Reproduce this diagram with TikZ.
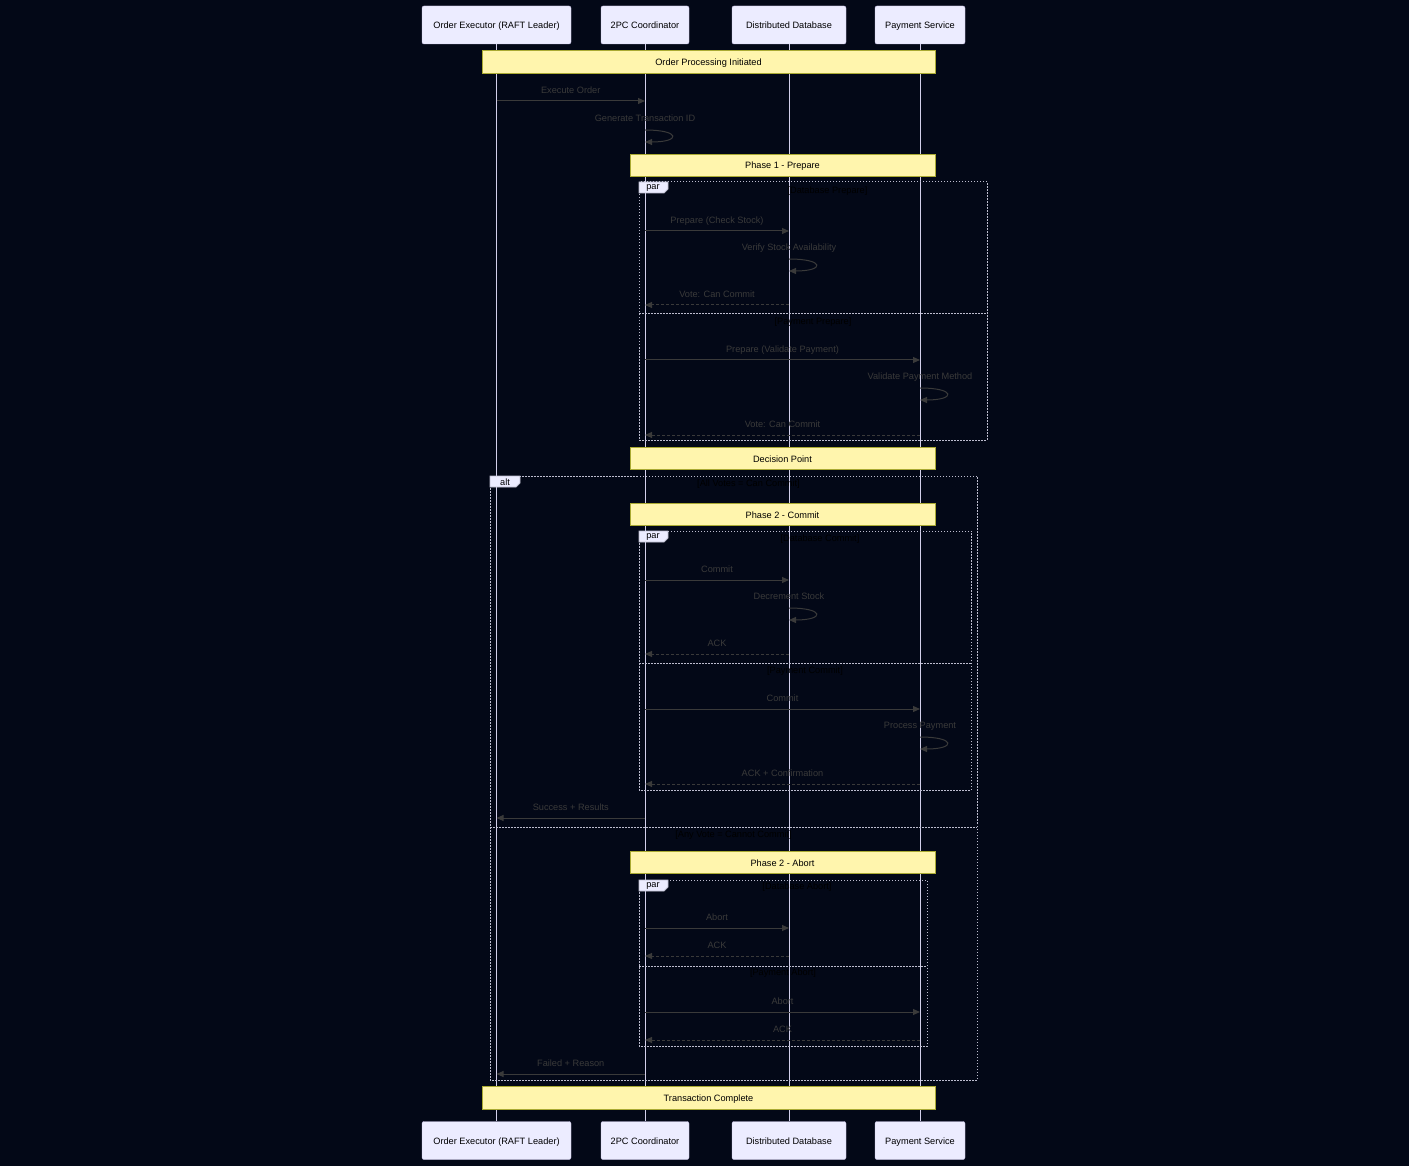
\documentclass[tikz,border=0pt]{standalone}
\usepackage{fontspec}
\setmainfont{Liberation Sans}
\usetikzlibrary{arrows.meta}
\definecolor{bgdark}{HTML}{030817}
\definecolor{actorfill}{HTML}{ECECFF}
\definecolor{actorline}{HTML}{C9C3E6}
\definecolor{lifeline}{HTML}{D2CFEA}
\definecolor{notefill}{HTML}{FFF5AD}
\definecolor{noteline}{HTML}{AAAA33}
\definecolor{msgline}{HTML}{3A3A3A}
\definecolor{msgtext}{HTML}{3A3A3A}
\definecolor{frameline}{HTML}{BDBDCF}

\begin{document}
\begin{tikzpicture}[
	x=1pt, y=-1pt,
	every node/.style={font=\fontsize{9.2}{11}\selectfont},
	actor/.style={draw=actorline, fill=actorfill, rounded corners=2pt, minimum height=38pt, inner sep=0pt, text height=8pt, text depth=0pt},
	note/.style={draw=noteline, fill=notefill, line width=0.8pt, minimum height=22pt, inner sep=0pt, text height=8pt, text depth=0pt},
	life/.style={draw=lifeline, line width=0.8pt},
	msg/.style={draw=msgline, line width=1pt, -{Triangle[length=7pt,width=6pt]}},
	reply/.style={msg, dash pattern=on 3pt off 2pt},
	lbl/.style={text=msgtext, anchor=base, inner sep=0pt},
	frame/.style={draw=frameline, line width=1pt, dash pattern=on 1.5pt off 1.5pt},
	tab/.style={draw=frameline, fill=actorfill, line width=0.8pt},
	cond/.style={text=black, inner sep=0pt},
	self/.style={msg, to path={.. controls +(36,0) and +(36,0) .. (\tikztotarget)}}
]
\fill[bgdark] (0,0) rectangle (1409,1166);
\useasboundingbox (0,0) rectangle (1409,1166);

\node[actor, minimum width=149pt] (exec) at (496.5,25) {Order Executor (RAFT Leader)};
\node[actor, minimum width=88pt] (coord) at (645,25) {2PC Coordinator};
\node[actor, minimum width=114pt] (db) at (789,25) {Distributed Database};
\node[actor, minimum width=90pt] (pay) at (920,25) {Payment Service};
\node[actor, minimum width=149pt] (execB) at (496.5,1140.5) {Order Executor (RAFT Leader)};
\node[actor, minimum width=88pt] (coordB) at (645,1140.5) {2PC Coordinator};
\node[actor, minimum width=114pt] (dbB) at (789,1140.5) {Distributed Database};
\node[actor, minimum width=90pt] (payB) at (920,1140.5) {Payment Service};
\foreach \a in {exec,coord,db,pay}
	\draw[life] (\a.south) -- (\a B.north);

\draw[frame] (639,182) rectangle (987,440) (639,314) -- (987,314);
\draw[tab] (639,182) -- ++(29,0) -- ++(0,7) -- ++(-4,4) -- ++(-25,0) -- cycle;
\node[cond] (par1) at (653,188) {par};
\node[cond] (c1) at (827.5,191) {[Database Prepare]};
\node[cond] (c2) at (813,322) {[Payment Prepare]};

\draw[frame] (490,476) rectangle (977,1080) (490,827) -- (977,827);
\draw[tab] (490,476) -- ++(30,0) -- ++(0,7) -- ++(-4,4) -- ++(-26,0) -- cycle;
\node[cond] (alt1) at (505,482) {alt};
\node[cond] (c3) at (748.5,484) {[All Votes = Can Commit]};
\node[cond] (c4) at (733.5,835) {[Any Vote = Cannot Commit]};

\draw[frame] (639,531) rectangle (971,790) (639,663) -- (971,663);
\draw[tab] (639,531) -- ++(29,0) -- ++(0,7) -- ++(-4,4) -- ++(-25,0) -- cycle;
\node[cond] (par2) at (653,537) {par};
\node[cond] (c5) at (820,539) {[Database Commit]};
\node[cond] (c6) at (805,671) {[Payment Commit]};

\draw[frame] (639,880) rectangle (927,1046) (639,966) -- (927,966);
\draw[tab] (639,880) -- ++(29,0) -- ++(0,7) -- ++(-4,4) -- ++(-25,0) -- cycle;
\node[cond] (par3) at (653,886) {par};
\node[cond] (c7) at (797,887) {[Database Abort]};
\node[cond] (c8) at (783,973) {[Payment Abort]};

\node[note, minimum width=453pt, minimum height=23pt] (n1) at (708.5,61.5) {Order Processing Initiated};
\node[note, minimum width=305pt] (n2) at (782.5,165) {Phase 1 - Prepare};
\node[note, minimum width=305pt] (n3) at (782.5,458) {Decision Point};
\node[note, minimum width=305pt] (n4) at (782.5,514) {Phase 2 - Commit};
\node[note, minimum width=305pt] (n5) at (782.5,862) {Phase 2 - Abort};
\node[note, minimum width=453pt, minimum height=23pt] (n6) at (708.5,1097.5) {Transaction Complete};

\path (0,101) coordinate (m1) (0,130) coordinate (m2)
	(0,231) coordinate (m3) (0,259) coordinate (m4) (0,305) coordinate (m5)
	(0,360) coordinate (m6) (0,388) coordinate (m7) (0,435) coordinate (m8)
	(0,580) coordinate (m9) (0,608) coordinate (m10) (0,654) coordinate (m11)
	(0,709) coordinate (m12) (0,737) coordinate (m13) (0,784) coordinate (m14)
	(0,818) coordinate (m15) (0,928) coordinate (m16) (0,956) coordinate (m17)
	(0,1012) coordinate (m18) (0,1040) coordinate (m19) (0,1074) coordinate (m20);

\draw[msg] (exec |- m1) -- node[lbl, yshift=7.5pt] (t1) {Execute Order} (coord |- m1);
\draw[self] (coord |- m2) node[lbl, yshift=8.5pt] (t2) {Generate Transaction ID} to ++(0,12);
\draw[msg] (coord |- m3) -- node[lbl, yshift=7.5pt] (t3) {Prepare (Check Stock)} (db |- m3);
\draw[self] (db |- m4) node[lbl, yshift=8.5pt] (t4) {Verify Stock Availability} to ++(0,12);
\draw[reply] (db |- m5) -- node[lbl, yshift=7.5pt] (t5) {Vote: Can Commit} (coord |- m5);
\draw[msg] (coord |- m6) -- node[lbl, yshift=7.5pt] (t6) {Prepare (Validate Payment)} (pay |- m6);
\draw[self] (pay |- m7) node[lbl, yshift=8.5pt] (t7) {Validate Payment Method} to ++(0,12);
\draw[reply] (pay |- m8) -- node[lbl, yshift=7.5pt] (t8) {Vote: Can Commit} (coord |- m8);
\draw[msg] (coord |- m9) -- node[lbl, yshift=7.5pt] (t9) {Commit} (db |- m9);
\draw[self] (db |- m10) node[lbl, yshift=8.5pt] (t10) {Decrement Stock} to ++(0,12);
\draw[reply] (db |- m11) -- node[lbl, yshift=7.5pt] (t11) {ACK} (coord |- m11);
\draw[msg] (coord |- m12) -- node[lbl, yshift=7.5pt] (t12) {Commit} (pay |- m12);
\draw[self] (pay |- m13) node[lbl, yshift=8.5pt] (t13) {Process Payment} to ++(0,12);
\draw[reply] (pay |- m14) -- node[lbl, yshift=7.5pt] (t14) {ACK + Confirmation} (coord |- m14);
\draw[msg] (coord |- m15) -- node[lbl, yshift=7.5pt] (t15) {Success + Results} (exec |- m15);
\draw[msg] (coord |- m16) -- node[lbl, yshift=7.5pt] (t16) {Abort} (db |- m16);
\draw[reply] (db |- m17) -- node[lbl, yshift=7.5pt] (t17) {ACK} (coord |- m17);
\draw[msg] (coord |- m18) -- node[lbl, yshift=7.5pt] (t18) {Abort} (pay |- m18);
\draw[reply] (pay |- m19) -- node[lbl, yshift=7.5pt] (t19) {ACK} (coord |- m19);
\draw[msg] (coord |- m20) -- node[lbl, yshift=7.5pt] (t20) {Failed + Reason} (exec |- m20);
\end{tikzpicture}
\end{document}
